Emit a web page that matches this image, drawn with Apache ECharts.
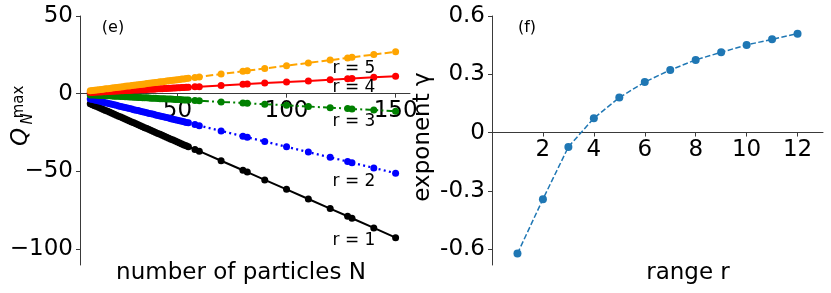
<!DOCTYPE html>
<html>
<head>
<meta charset="utf-8">
<script src="https://cdn.jsdelivr.net/npm/echarts@6/dist/echarts.min.js"></script>
<style>html,body{margin:0;padding:0;background:#fff}#c{width:831px;height:293px}</style>
</head>
<body>
<div id="c"></div>
<script>
// Panel (e): number of particles N vs Q_N^max
const N = [10,11,12,13,14,15,16,17,18,19,20,21,22,23,24,25,26,27,28,29,30,31,32,33,34,35,36,37,38,39,40,41,42,43,44,45,46,47,48,49,50,51,52,53,54,55,
           58,60,70,80,82,90,100,110,120,128,130,140,150];
const Q_r1 = [-6.5,-7.1,-7.7,-8.3,-8.9,-9.6,-10.2,-10.8,-11.4,-12.0,-12.6,-13.3,-13.9,-14.5,-15.1,-15.7,-16.3,-17.0,-17.6,-18.2,-18.8,-19.4,-20.0,-20.7,-21.3,-21.9,-22.5,-23.1,-23.7,-24.3,-25.0,-25.6,-26.2,-26.8,-27.4,-28.0,-28.7,-29.3,-29.9,-30.5,-31.1,-31.7,-32.4,-33.0,-33.6,-34.2,
              -35.9,-37.0,-43.2,-49.3,-50.5,-55.5,-61.6,-67.8,-74.0,-78.9,-80.2,-86.4,-92.7];
const Q_r2 = [-3.4,-3.8,-4.1,-4.4,-4.8,-5.1,-5.5,-5.8,-6.2,-6.5,-6.8,-7.2,-7.5,-7.9,-8.2,-8.6,-8.9,-9.2,-9.6,-9.9,-10.3,-10.6,-10.9,-11.3,-11.6,-12.0,-12.3,-12.7,-13.0,-13.3,-13.7,-14.0,-14.4,-14.7,-15.0,-15.4,-15.7,-16.1,-16.4,-16.8,-17.1,-17.4,-17.8,-18.1,-18.5,-18.8,
              -19.9,-20.6,-24.0,-27.4,-28.1,-30.8,-34.2,-37.6,-41.0,-43.7,-44.4,-47.8,-51.2];
const Q_r3 = [-0.8,-0.8,-0.9,-1.0,-1.1,-1.1,-1.2,-1.3,-1.4,-1.4,-1.5,-1.6,-1.7,-1.7,-1.8,-1.9,-2.0,-2.0,-2.1,-2.2,-2.3,-2.3,-2.4,-2.5,-2.6,-2.6,-2.7,-2.8,-2.9,-2.9,-3.0,-3.1,-3.2,-3.2,-3.3,-3.4,-3.5,-3.5,-3.6,-3.7,-3.8,-3.8,-3.9,-4.0,-4.1,-4.1,
              -4.4,-4.5,-5.3,-6.0,-6.2,-6.8,-7.5,-8.3,-9.0,-9.6,-9.8,-10.5,-11.3];
const Q_r4 = [0.8,0.8,0.9,1.0,1.1,1.1,1.2,1.3,1.4,1.4,1.5,1.6,1.7,1.7,1.8,1.9,2.0,2.0,2.1,2.2,2.3,2.3,2.4,2.5,2.6,2.6,2.7,2.8,2.9,2.9,3.0,3.1,3.2,3.2,3.3,3.4,3.5,3.5,3.6,3.7,3.8,3.8,3.9,4.0,4.1,4.1,
              4.4,4.5,5.3,6.0,6.2,6.8,7.5,8.2,9.0,9.6,9.8,10.5,11.2];
const Q_r5 = [1.8,2.0,2.2,2.3,2.5,2.7,2.9,3.1,3.2,3.4,3.6,3.8,4.0,4.1,4.3,4.5,4.7,4.9,5.0,5.2,5.4,5.6,5.8,5.9,6.1,6.3,6.5,6.7,6.8,7.0,7.2,7.4,7.6,7.7,7.9,8.1,8.3,8.5,8.6,8.8,9.0,9.2,9.4,9.5,9.7,9.9,
              10.4,10.8,12.6,14.4,14.8,16.2,18.0,19.8,21.6,23.0,23.4,25.2,27.0];
const xTicksE = [50,100,150];
const yTicksE = [-100,-50,0,50];
const seriesLabelsE = ['r = 1','r = 2','r = 3','r = 4','r = 5'];

// Panel (f): range r vs exponent gamma
const R = [1,2,3,4,5,6,7,8,9,10,11,12];
const GAMMA = [-0.623,-0.343,-0.074,0.074,0.18,0.26,0.322,0.374,0.413,0.451,0.48,0.509];
const xTicksF = [2,4,6,8,10,12];
const yTicksF = [-0.6,-0.3,0,0.3,0.6];

const FONT = "'DejaVu Sans', sans-serif";
const pairs = (xs, ys) => xs.map((x,i)=>[x, ys[i]]);
const minusFmt = v => v < 0 ? '\u2212' + Math.abs(v) : String(v);
const hyphenFmt = v => Math.abs(v) < 1e-9 ? '0' : v.toFixed(1);

// grid geometry
const GE = {left:80, top:16, width:330, height:249};
const GF = {left:492, top:16, width:331, height:249};
const YE = [-110.3, 50];
const YF = [-0.682, 0.6];
// offset that puts each x axis on y = 0 (ECharts offsets from the grid bottom)
const offE = -GE.height * (0 - YE[0]) / (YE[1] - YE[0]);
const offF = -GF.height * (0 - YF[0]) / (YF[1] - YF[0]);

const axisLineStyle = {show:true, onZero:false, lineStyle:{color:'#3a3a3a', width:1}};
const tickStyle = {show:true, inside:false, length:4, lineStyle:{color:'#3a3a3a', width:1}};
const labelBase = {color:'#000', fontFamily:FONT, fontSize:23};

function leftSeries(name, ys, color, dash, w, sym) {
  return {
    name, type:'line', xAxisIndex:0, yAxisIndex:0,
    data: pairs(N, ys), symbol:'circle', symbolSize:sym, showSymbol:true,
    itemStyle:{color}, lineStyle:{color, width:w, type:dash},
    animation:false, z:3
  };
}

const chart = echarts.init(document.getElementById('c'), null, {renderer:'canvas'});
const txt = (text, x, y, size, extra) => Object.assign({
  type:'text', x, y, z:100,
  style:{text, fill:'#000', font: size + 'px ' + FONT, align:'center', verticalAlign:'middle'}
}, extra || {});

chart.setOption({
  animation:false,
  backgroundColor:'#fff',
  grid:[GE, GF],
  xAxis:[
    {gridIndex:0, type:'value', min:5.3, max:156.6, position:'bottom', offset:offE,
     axisLine:axisLineStyle, splitLine:{show:false},
     axisTick:Object.assign({customValues:xTicksE}, tickStyle),
     axisLabel:Object.assign({customValues:xTicksE, margin:6}, labelBase)},
    {gridIndex:1, type:'value', min:0, max:13, position:'bottom', offset:offF,
     axisLine:axisLineStyle, splitLine:{show:false},
     axisTick:Object.assign({customValues:xTicksF}, tickStyle),
     axisLabel:Object.assign({customValues:xTicksF, margin:6}, labelBase)}
  ],
  yAxis:[
    {gridIndex:0, type:'value', min:YE[0], max:YE[1],
     axisLine:axisLineStyle, splitLine:{show:false},
     axisTick:Object.assign({customValues:yTicksE}, tickStyle),
     axisLabel:Object.assign({customValues:yTicksE, margin:7, formatter:minusFmt}, labelBase)},
    {gridIndex:1, type:'value', min:YF[0], max:YF[1],
     axisLine:axisLineStyle, splitLine:{show:false},
     axisTick:Object.assign({customValues:yTicksF}, tickStyle),
     axisLabel:Object.assign({customValues:yTicksF, margin:7, formatter:hyphenFmt}, labelBase)}
  ],
  series:[
    leftSeries('r1', Q_r1, '#000000', 'solid', 2, 7),
    leftSeries('r2', Q_r2, '#0000ff', [2,3.3], 2.2, 7),
    leftSeries('r3', Q_r3, '#008000', [12.8,3.2,2,3.2], 2, 7),
    leftSeries('r4', Q_r4, '#ff0000', 'solid', 2, 7),
    leftSeries('r5', Q_r5, '#ffa500', [7.4,3.2], 2, 7),
    {name:'gamma', type:'line', xAxisIndex:1, yAxisIndex:1, data:pairs(R, GAMMA),
     symbol:'circle', symbolSize:8, showSymbol:true,
     itemStyle:{color:'#1f77b4'}, lineStyle:{color:'#1f77b4', width:1.5, type:[5.5,2.4]}}
  ],
  graphic:[
    txt('(e)', 113, 28, 16),
    txt('(f)', 527, 28, 16),
    txt(seriesLabelsE[4], 354, 69, 17),
    txt(seriesLabelsE[3], 354, 88, 17),
    txt(seriesLabelsE[2], 354, 122, 17),
    txt(seriesLabelsE[1], 354, 182, 17),
    txt(seriesLabelsE[0], 354, 241, 17),
    txt('number of particles N', 241, 273, 23),
    txt('range r', 688, 273, 23),
    txt('exponent \u03b3', 423, 137, 23, {rotation:Math.PI/2}),
    txt('Q', 21, 137, 23, {rotation:Math.PI/2, style:{text:'Q', fill:'#000', font:'italic 23px ' + FONT, align:'center', verticalAlign:'middle'}}),
    txt('N', 28, 119, 15, {rotation:Math.PI/2, style:{text:'N', fill:'#000', font:'italic 15px ' + FONT, align:'center', verticalAlign:'middle'}}),
    txt('max', 19, 102, 15, {rotation:Math.PI/2})
  ]
});
</script>
</body>
</html>
